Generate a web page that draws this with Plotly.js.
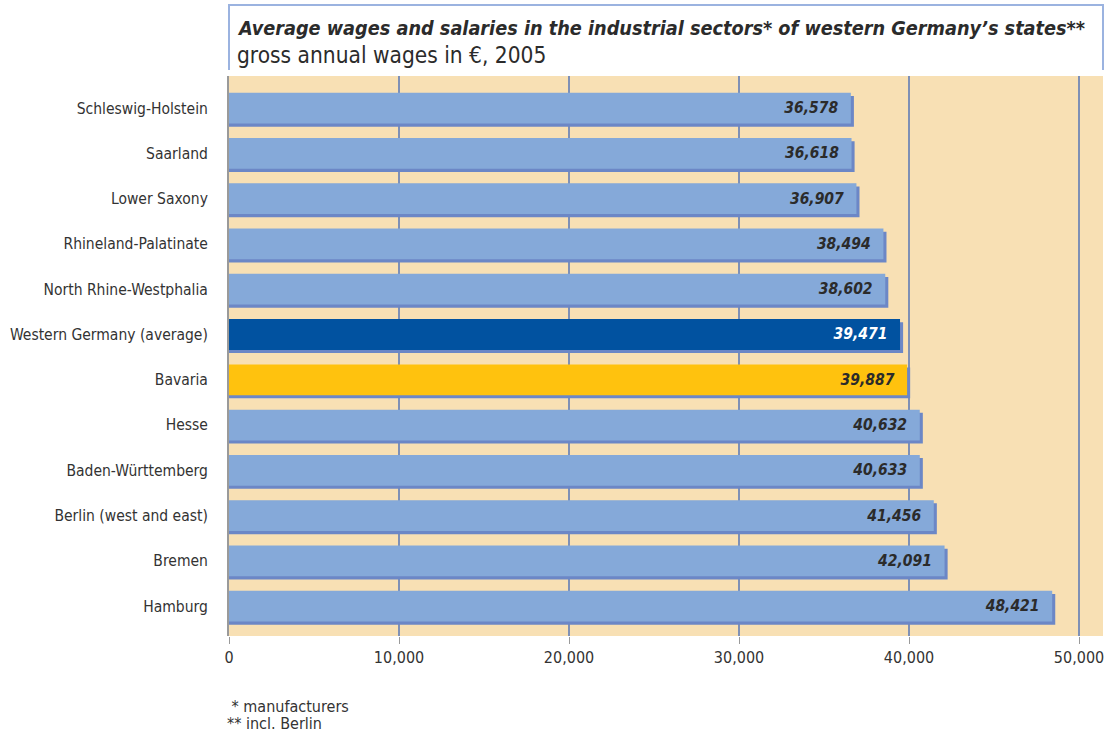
<!DOCTYPE html>
<html>
<head>
<meta charset="utf-8">
<script src="https://cdn.plot.ly/plotly-3.0.1.min.js"></script>
<style>html,body{margin:0;padding:0;background:#fff;}#chart{width:1105px;height:734px;}</style>
</head>
<body>
<div id="chart"></div>
<script>
const states = ["Schleswig-Holstein","Saarland","Lower Saxony","Rhineland-Palatinate","North Rhine-Westphalia","Western Germany (average)","Bavaria","Hesse","Baden-Württemberg","Berlin (west and east)","Bremen","Hamburg"];
const wages = [36578,36618,36907,38494,38602,39471,39887,40632,40633,41456,42091,48421];
const xTicks = [0,10000,20000,30000,40000,50000];
const xTickLabels = ["0","10,000","20,000","30,000","40,000","50,000"];
const titleText = "Average wages and salaries in the industrial sectors* of western Germany’s states**";
const subtitleText = "gross annual wages in €, 2005";
const footnotes = [" * manufacturers","** incl. Berlin"];

const FONT = "'DejaVu Sans Condensed','Liberation Sans Narrow',Roboto,sans-serif";
const barColors = states.map(s => s.startsWith("Western") ? "#0152a0" : (s === "Bavaria" ? "#ffc20e" : "#85a9d9"));
const textColors = states.map(s => s.startsWith("Western") ? "#ffffff" : "#2b2b2b");
const shadowShift = 180;

const shadow = {
  type: "bar", orientation: "h", y: states, x: wages.map(v => v + shadowShift),
  width: 0.68, offset: -0.27, marker: {color: "#6c87c6"}, hoverinfo: "skip", showlegend: false
};
const bars = {
  type: "bar", orientation: "h", y: states, x: wages,
  width: 0.68, offset: -0.34,
  marker: {color: barColors},
  text: wages.map(v => v.toLocaleString("en-US") + "\u00a0\u00a0"),
  textposition: "inside", insidetextanchor: "end",
  textfont: {family: FONT, size: 15.5, color: textColors, weight: "bold", style: "italic"},
  cliponaxis: false, showlegend: false
};

const layout = {
  width: 1105, height: 734,
  margin: {l: 229, r: 2, t: 76, b: 98},
  paper_bgcolor: "#ffffff", plot_bgcolor: "#f8e0b4",
  barmode: "overlay",
  font: {family: FONT, size: 16, color: "#333333"},
  xaxis: {
    range: [0, 51410], tickvals: xTicks, ticktext: xTickLabels,
    showgrid: true, gridcolor: "#7f90b5", gridwidth: 1.3,
    ticks: "outside", ticklen: 7, tickcolor: "#9a9a9a",
    zeroline: false, showline: false, fixedrange: true,
    tickfont: {family: FONT, size: 16, color: "#333333"}
  },
  yaxis: {
    type: "category", range: [11.66, -0.71],
    showgrid: false, ticks: "", ticklabelstandoff: 16,
    showline: true, linecolor: "#9a9a9a", linewidth: 2,
    tickfont: {family: FONT, size: 15.5, color: "#333333"}, fixedrange: true
  },
  shapes: [
    {type: "path", xref: "paper", yref: "paper",
     path: "M 0 1.0107 L 0 1.127 L 1 1.127 L 1 1.0107",
     line: {color: "#9bb3e0", width: 2}}
  ],
  annotations: [
    {xref: "paper", yref: "paper", x: 0, y: 1.0857, xanchor: "left", yanchor: "middle", xshift: 6, showarrow: false,
     text: "<b><i>" + titleText + "</i></b>", font: {family: FONT, size: 19.7, color: "#2b2b2b"}},
    {xref: "paper", yref: "paper", x: 0, y: 1.0375, xanchor: "left", yanchor: "middle", xshift: 6, showarrow: false,
     text: subtitleText, font: {family: FONT, size: 22.5, color: "#2b2b2b"}},
    {xref: "paper", yref: "paper", x: 0, y: -0.125, xanchor: "left", yanchor: "middle", xshift: -4, showarrow: false,
     text: footnotes[0], font: {family: FONT, size: 16, color: "#333333"}},
    {xref: "paper", yref: "paper", x: 0, y: -0.157, xanchor: "left", yanchor: "middle", xshift: -4, showarrow: false,
     text: footnotes[1], font: {family: FONT, size: 16, color: "#333333"}}
  ]
};

Plotly.newPlot("chart", [shadow, bars], layout, {displayModeBar: false, staticPlot: true});
</script>
</body>
</html>
